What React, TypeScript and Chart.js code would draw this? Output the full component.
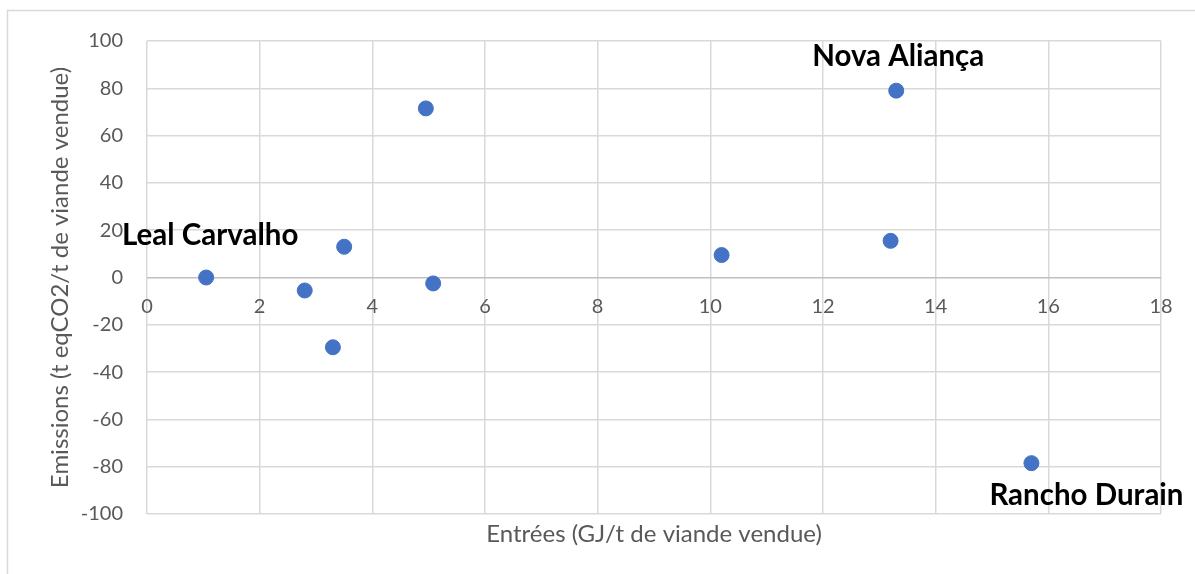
import React, { useEffect, useRef } from "react";
import { Chart, registerables } from "chart.js";

Chart.register(...registerables);

const xValues = [1.05, 2.8, 3.3, 3.5, 4.95, 5.08, 10.2, 13.2, 13.3, 15.7];
const yValues = [0, -5.5, -29.5, 13, 71.5, -2.5, 9.5, 15.5, 79, -78.5];
const pointNames = ["Leal Carvalho", "", "", "", "", "", "", "", "Nova Aliança", "Rancho Durain"];
const xTitle = "Entrées (GJ/t de viande vendue)";
const yTitle = "Emissions (t eqCO2/t de viande vendue)";

const labelOffsets: Record<string, [number, number]> = {
  "Leal Carvalho": [4, -42],
  "Nova Aliança": [2, -34],
  "Rancho Durain": [55, 32],
};

const FONT = "Lato";
const TEXT = "#595959";
const GRID = "#d9d9d9";

const frame = {
  id: "frame",
  beforeDraw(chart: any) {
    const ctx = chart.ctx;
    ctx.save();
    ctx.fillStyle = "#ffffff";
    ctx.fillRect(0, 0, chart.width, chart.height);
    ctx.strokeStyle = GRID;
    ctx.lineWidth = 1.5;
    ctx.strokeRect(7.5, 10.5, chart.width + 20, chart.height + 20);
    ctx.restore();
  },
};

const names = {
  id: "names",
  afterDatasetsDraw(chart: any) {
    const ctx = chart.ctx;
    const meta = chart.getDatasetMeta(0);
    ctx.save();
    ctx.font = `bold 29.5px ${FONT}`;
    ctx.fillStyle = "#000000";
    ctx.textAlign = "center";
    ctx.textBaseline = "middle";
    pointNames.forEach((n, i) => {
      if (!n) return;
      const el = meta.data[i];
      const off = labelOffsets[n] || [0, -30];
      ctx.fillText(n, el.x + off[0], el.y + off[1]);
    });
    ctx.restore();
  },
};

export default function App() {
  const ref = useRef<HTMLCanvasElement>(null);
  useEffect(() => {
    if (!ref.current) return;
    const chart = new Chart(ref.current, {
      type: "scatter",
      data: {
        datasets: [
          {
            data: xValues.map((x, i) => ({ x, y: yValues[i] })),
            backgroundColor: "#4472C4",
            borderColor: "#4472C4",
            pointRadius: 7.5,
            pointHoverRadius: 7.5,
          },
        ],
      },
      options: {
        animation: false,
        responsive: false,
        maintainAspectRatio: false,
        layout: { padding: { top: 41, right: 34, left: 0, bottom: 0 } },
        plugins: { legend: { display: false }, tooltip: { enabled: false } },
        scales: {
          x: {
            type: "linear",
            min: 0,
            max: 18,
            ticks: { display: false, stepSize: 2 },
            grid: { color: GRID, lineWidth: 1.5, drawTicks: false },
            border: { display: false },
            title: {
              display: true,
              text: xTitle,
              color: TEXT,
              font: { family: FONT, size: 24 },
              padding: { top: 0, bottom: 25 },
            },
            afterFit(s: any) {
              s.height = 60;
            },
          },
          x2: {
            type: "linear",
            position: { y: 0 },
            min: 0,
            max: 18,
            ticks: {
              stepSize: 2,
              color: TEXT,
              font: { family: FONT, size: 20 },
              padding: 17,
              maxRotation: 0,
            },
            grid: { display: false, drawTicks: false },
            border: { display: false },
          },
          y: {
            min: -100,
            max: 100,
            ticks: {
              stepSize: 20,
              color: TEXT,
              font: { family: FONT, size: 20 },
              padding: 24,
            },
            grid: {
              color: (c: any) => (c.tick && c.tick.value === 0 ? "#bfbfbf" : GRID),
              lineWidth: 1.5,
              drawTicks: false,
            },
            border: { display: false },
            title: {
              display: true,
              text: yTitle,
              color: TEXT,
              font: { family: FONT, size: 24 },
              padding: { top: 46, bottom: 0 },
            },
            afterFit(s: any) {
              s.width = 147;
            },
          },
        },
      },
      plugins: [frame, names],
    });
    return () => chart.destroy();
  }, []);
  return (
    <div style={{ position: "fixed", left: 0, top: 0, width: 1195, height: 574, overflow: "hidden" }}>
      <canvas ref={ref} width={1195} height={574} style={{ width: 1195, height: 574, display: "block" }} />
    </div>
  );
}
